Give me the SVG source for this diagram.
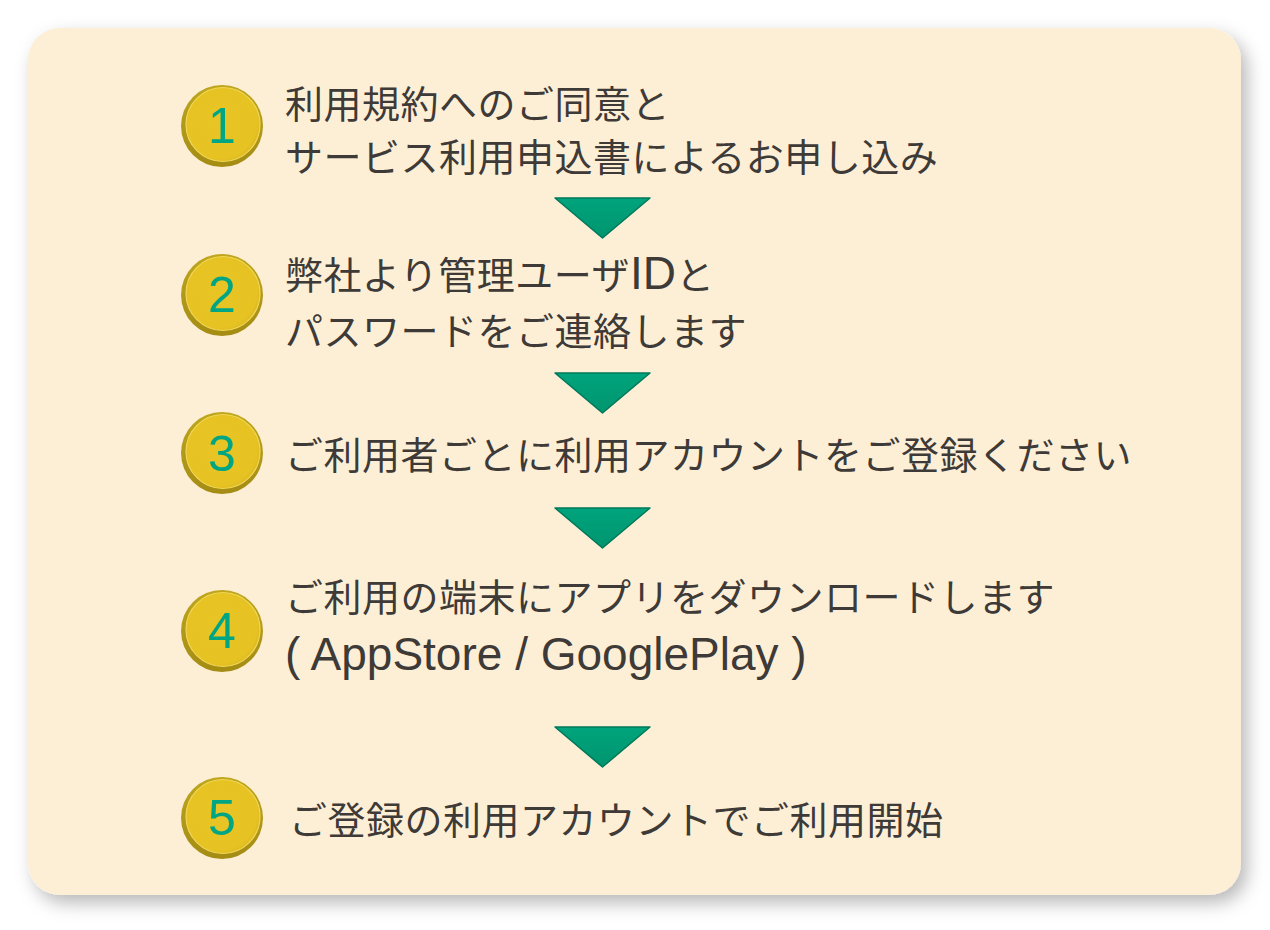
<svg xmlns="http://www.w3.org/2000/svg" width="1270" height="930" viewBox="0 0 1270 930">
<defs>
<filter id="shadow" x="-10%" y="-10%" width="120%" height="120%">
<feDropShadow dx="6" dy="8" stdDeviation="9" flood-color="#000" flood-opacity="0.28"/>
</filter>
<linearGradient id="rim" x1="0" y1="0" x2="0" y2="1">
<stop offset="0" stop-color="#BFA61E"/>
<stop offset="1" stop-color="#A48C14"/>
</linearGradient>
<radialGradient id="face" cx="0.45" cy="0.45" r="0.6">
<stop offset="0" stop-color="#E8C524"/>
<stop offset="0.85" stop-color="#E6C223"/>
<stop offset="1" stop-color="#D9B61F"/>
</radialGradient>
<linearGradient id="tri" x1="0" y1="0" x2="0" y2="1">
<stop offset="0" stop-color="#00A47C"/>
<stop offset="1" stop-color="#00956F"/>
</linearGradient>
<g id="coin">
<circle cx="0" cy="0" r="41" fill="url(#rim)"/>
<circle cx="1" cy="-1.5" r="37" fill="url(#face)" stroke="#F0D655" stroke-width="1.2"/>
</g>
<path id="arrow" d="M0,0 L95,0 L47.5,40 Z"/>
</defs>
<style>
.txt{font-family:"Noto Sans CJK JP",sans-serif;font-size:38px;fill:#3D3A37;letter-spacing:0.5px}
.lat{font-family:"Liberation Sans",Arial,sans-serif;font-size:46px;letter-spacing:0}
.num{font-family:"Liberation Sans",Arial,sans-serif;font-size:50px;fill:#00A583;text-anchor:middle}
.arr{fill:url(#tri);stroke:#00785A;stroke-width:1.5;stroke-linejoin:round}
</style>
<rect x="28" y="28" width="1213" height="867" rx="32" ry="32" fill="#FDEFD6" filter="url(#shadow)"/>

<g id="connectors">
<use href="#arrow" x="555" y="198" class="arr"/>
<use href="#arrow" x="555" y="373" class="arr"/>
<use href="#arrow" x="555" y="508" class="arr"/>
<use href="#arrow" x="555" y="727" class="arr"/>
</g>

<g id="step1">
<use href="#coin" x="222" y="126"/>
<text class="num" x="222" y="143">1</text>
<text class="txt" x="285" y="118">利用規約へのご同意と</text>
<text class="txt" x="285" y="171">サービス利用申込書によるお申し込み</text>
</g>

<g id="step2">
<use href="#coin" x="222" y="295"/>
<text class="num" x="222" y="312">2</text>
<text class="txt" x="285" y="289">弊社より管理ユーザ<tspan class="lat">ID</tspan>と</text>
<text class="txt" x="285" y="345">パスワードをご連絡します</text>
</g>

<g id="step3">
<use href="#coin" x="222" y="453"/>
<text class="num" x="222" y="471">3</text>
<text class="txt" x="285" y="469">ご利用者ごとに利用アカウントをご登録ください</text>
</g>

<g id="step4">
<use href="#coin" x="222" y="631"/>
<text class="num" x="222" y="648">4</text>
<text class="txt" x="285" y="611">ご利用の端末にアプリをダウンロードします</text>
<text class="txt lat" x="285" y="670">( AppStore / GooglePlay )</text>
</g>

<g id="step5">
<use href="#coin" x="222" y="818"/>
<text class="num" x="222" y="835">5</text>
<text class="txt" x="289" y="834">ご登録の利用アカウントでご利用開始</text>
</g>
</svg>
